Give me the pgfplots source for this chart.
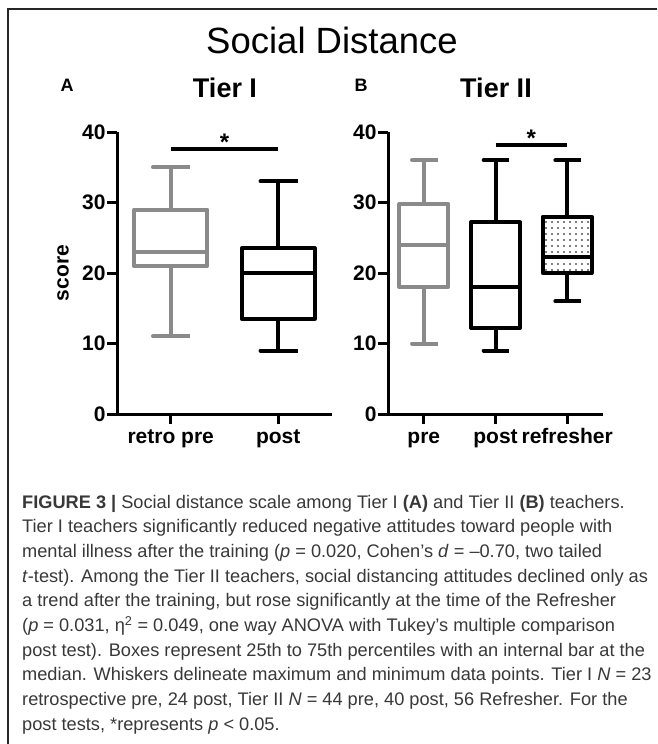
\documentclass[border=0pt]{standalone}
\usepackage{fontspec}
\setmainfont{Liberation Sans}
\setsansfont{Liberation Sans}
\newfontfamily\capfont{Liberation Sans}
\usepackage{pgfplots}
\pgfplotsset{compat=1.18}
\usetikzlibrary{patterns.meta}

\definecolor{boxgray}{RGB}{138,138,138}

\pgfplotsset{
  gp/.style={
    scale only axis, width=215pt, height=282pt,
    axis x line=bottom, axis y line=left,
    axis line style={-, line width=3pt},
    ymin=0, ymax=40, ytick={0,10,20,30,40},
    tick align=outside, major tick length=10pt,
    tick style={line width=3pt, black},
    tick label style={font=\bfseries\fontsize{21}{21}\selectfont},
    xticklabel style={text height=15pt, text depth=4pt, yshift=-1pt},
    yticklabel style={xshift=2pt},
    /pgf/number format/assume math mode=true,
    clip=false,
  },
  bx/.style={mark=none, line width=4pt, line join=round, line cap=rect},
}

\begin{document}
\begin{tikzpicture}[x=1pt,y=1pt]
\useasboundingbox (0,0) rectangle (657,-744);

% panel A: Tier I
% retro pre: min 11, q1 21, median 23, q3 29, max 35
% post:      min 9, q1 13.5, median 20, q3 23.5, max 33
\begin{axis}[gp, at={(117pt,-414pt)}, anchor=south west,
  xmin=0.5, xmax=2.5, xtick={1,2}, xticklabels={retro pre, post},
  ylabel={score},
  ylabel style={at={(axis description cs:-0.251,0.5)}, anchor=center,
    font=\bfseries\fontsize{21}{21}\selectfont}]
\addplot[bx, boxgray] coordinates {(0.66,21) (1.34,21) (1.34,29) (0.66,29)} -- cycle;
\addplot[bx, boxgray] coordinates {(0.66,23) (1.34,23)};
\addplot[bx, boxgray] coordinates {(1,29) (1,35) (0.835,35) (1.165,35)};
\addplot[bx, boxgray] coordinates {(1,21) (1,11) (0.835,11) (1.165,11)};
\addplot[bx, black] coordinates {(1.66,13.5) (2.34,13.5) (2.34,23.5) (1.66,23.5)} -- cycle;
\addplot[bx, black] coordinates {(1.66,20) (2.34,20)};
\addplot[bx, black] coordinates {(2,23.5) (2,33) (1.835,33) (2.165,33)};
\addplot[bx, black] coordinates {(2,13.5) (2,9) (1.835,9) (2.165,9)};
\addplot[black, line width=4pt] coordinates {(1,37.6) (2,37.6)};
\node[anchor=base, yshift=-2pt, font=\bfseries\fontsize{24}{24}\selectfont] at (axis cs:1.5,37.6) {*};
\end{axis}

% panel B: Tier II
% pre:       min 10, q1 18, median 24, q3 29.8, max 36
% post:      min 9, q1 12.2, median 18, q3 27.2, max 36
% refresher: min 16, q1 20, median 22.2, q3 28, max 36
\begin{axis}[gp, at={(388pt,-414pt)}, anchor=south west,
  xmin=0.5, xmax=3.5, xtick={1,2,3}, xticklabels={pre, post, refresher}]
\addplot[bx, boxgray] coordinates {(0.66,18) (1.34,18) (1.34,29.8) (0.66,29.8)} -- cycle;
\addplot[bx, boxgray] coordinates {(0.66,24) (1.34,24)};
\addplot[bx, boxgray] coordinates {(1,29.8) (1,36) (0.835,36) (1.165,36)};
\addplot[bx, boxgray] coordinates {(1,18) (1,10) (0.835,10) (1.165,10)};
\addplot[bx, black] coordinates {(1.66,12.2) (2.34,12.2) (2.34,27.2) (1.66,27.2)} -- cycle;
\addplot[bx, black] coordinates {(1.66,18) (2.34,18)};
\addplot[bx, black] coordinates {(2,27.2) (2,36) (1.835,36) (2.165,36)};
\addplot[bx, black] coordinates {(2,12.2) (2,9) (1.835,9) (2.165,9)};
\addplot[bx, black, pattern={Dots[distance=6pt, radius=0.9pt]}] coordinates {(2.66,20) (3.34,20) (3.34,28) (2.66,28)} -- cycle;
\addplot[bx, black] coordinates {(2.66,22.2) (3.34,22.2)};
\addplot[bx, black] coordinates {(3,28) (3,36) (2.835,36) (3.165,36)};
\addplot[bx, black] coordinates {(3,20) (3,16) (2.835,16) (3.165,16)};
\addplot[black, line width=4pt] coordinates {(2,38.2) (3,38.2)};
\node[anchor=base, yshift=-2pt, font=\bfseries\fontsize{24}{24}\selectfont] at (axis cs:2.5,38.2) {*};
\end{axis}

% frame
\draw[line width=1.5pt, black!85] (8,-744) -- (8,-9) -- (657,-9);

% titles
\node[anchor=base, font=\fontsize{36.5}{36.5}\selectfont] at (332,-53) {Social Distance};
\node[anchor=base west, font=\bfseries\fontsize{18}{18}\selectfont] at (57,-91) {A};
\node[anchor=base, font=\bfseries\fontsize{27}{27}\selectfont] at (225,-97) {Tier I};
\node[anchor=base west, font=\bfseries\fontsize{18}{18}\selectfont] at (351,-91) {B};
\node[anchor=base, font=\bfseries\fontsize{27}{27}\selectfont] at (496,-97) {Tier II};

% caption
\begin{scope}[every node/.style={anchor=base west, inner sep=0, text=black!78,
    font=\capfont\fontsize{18.2}{18.2}\selectfont}]
\node at (22,-508.0) {\textbf{FIGURE 3 |} Social distance scale among Tier I \textbf{(A)} and Tier II \textbf{(B)} teachers.};
\node at (22,-532.7) {Tier I teachers significantly reduced negative attitudes toward people with};
\node at (22,-557.4) {mental illness after the training (\textit{p} = 0.020, Cohen’s \textit{d} = –0.70, two tailed};
\node at (22,-582.1) {\textit{t}-test). Among the Tier II teachers, social distancing attitudes declined only as};
\node at (22,-606.8) {a trend after the training, but rose significantly at the time of the Refresher};
\node at (22,-631.5) {(\textit{p} = 0.031, η\textsuperscript{2} = 0.049, one way ANOVA with Tukey’s multiple comparison};
\node at (22,-656.2) {post test). Boxes represent 25th to 75th percentiles with an internal bar at the};
\node at (22,-680.9) {median. Whiskers delineate maximum and minimum data points. Tier I \textit{N} = 23};
\node at (22,-705.6) {retrospective pre, 24 post, Tier II \textit{N} = 44 pre, 40 post, 56 Refresher. For the};
\node at (22,-730.3) {post tests, *represents \textit{p} < 0.05.};
\end{scope}
\end{tikzpicture}
\end{document}
